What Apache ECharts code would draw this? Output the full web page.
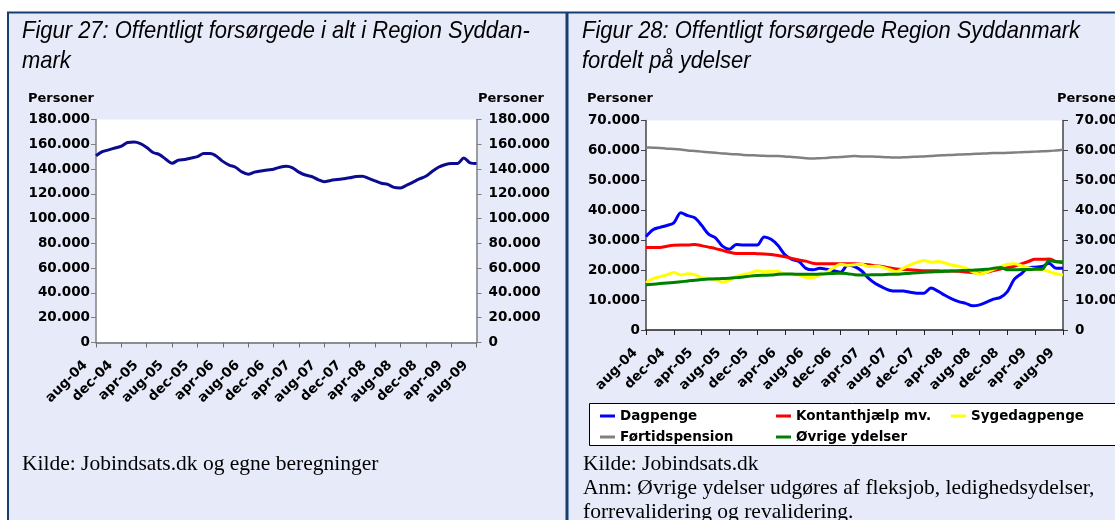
<!DOCTYPE html>
<html>
<head>
<meta charset="utf-8">
<script src="https://cdn.jsdelivr.net/npm/echarts@6/dist/echarts.min.js"></script>
<style>
  html, body { margin: 0; padding: 0; background: #fff; }
  #main { width: 1115px; height: 520px; }
</style>
</head>
<body>
<div id="main"></div>
<script>
// maaneder aug-04 .. aug-09
var maaneder = [
    'aug-04', 'sep-04', 'okt-04', 'nov-04', 'dec-04',
    'jan-05', 'feb-05', 'mar-05', 'apr-05', 'maj-05', 'jun-05', 'jul-05', 'aug-05', 'sep-05', 'okt-05', 'nov-05', 'dec-05',
    'jan-06', 'feb-06', 'mar-06', 'apr-06', 'maj-06', 'jun-06', 'jul-06', 'aug-06', 'sep-06', 'okt-06', 'nov-06', 'dec-06',
    'jan-07', 'feb-07', 'mar-07', 'apr-07', 'maj-07', 'jun-07', 'jul-07', 'aug-07', 'sep-07', 'okt-07', 'nov-07', 'dec-07',
    'jan-08', 'feb-08', 'mar-08', 'apr-08', 'maj-08', 'jun-08', 'jul-08', 'aug-08', 'sep-08', 'okt-08', 'nov-08', 'dec-08',
    'jan-09', 'feb-09', 'mar-09', 'apr-09', 'maj-09', 'jun-09', 'jul-09', 'aug-09'
];

// alle tal i 1.000 personer
// Figur 27
var iAlt = [
    150.7, 154.0, 155.5, 157.0, 158.5, 161.5, 161.8, 160.5, 157.4, 153.4,
    151.7, 148.0, 144.7, 147.2, 147.7, 148.8, 150.1, 152.5, 152.5, 150.4,
    146.2, 143.2, 141.5, 137.7, 135.9, 137.5, 138.4, 139.2, 139.9, 141.5,
    142.2, 141.0, 137.5, 135.2, 134.0, 131.5, 129.7, 130.8, 131.5, 132.2,
    132.9, 134.0, 134.2, 132.5, 130.5, 128.5, 127.6, 125.2, 124.8, 127.0,
    129.5, 132.0, 134.2, 138.0, 141.5, 143.5, 144.5, 144.5, 149.0, 145.0,
    144.5
];

// Figur 28
var dagpenge = [
    31.2, 33.5, 34.3, 34.9, 35.8, 39.2, 38.2, 37.5, 35.0, 32.0,
    30.8, 28.0, 27.0, 28.6, 28.4, 28.4, 28.4, 31.1, 30.3, 28.2,
    25.1, 23.6, 22.9, 20.6, 20.1, 20.6, 20.3, 19.8, 19.3, 21.6,
    21.2, 19.8, 17.3, 15.5, 14.3, 13.3, 13.0, 13.0, 12.6, 12.3,
    12.3, 14.0, 13.0, 11.6, 10.4, 9.5, 8.9, 8.1, 8.4, 9.3,
    10.3, 10.9, 12.8, 17.0, 18.8, 20.8, 21.0, 21.2, 22.3, 20.6,
    20.6
];
var kontanthjaelp = [
    27.6, 27.6, 27.6, 28.0, 28.3, 28.4, 28.4, 28.6, 28.2, 27.7,
    27.2, 26.6, 26.0, 25.6, 25.6, 25.6, 25.5, 25.4, 25.2, 24.9,
    24.5, 23.9, 23.4, 23.0, 22.3, 22.1, 22.1, 22.1, 22.1, 22.1,
    22.1, 22.0, 21.8, 21.5, 21.2, 20.8, 20.4, 20.2, 20.1, 20.0,
    19.8, 19.8, 19.8, 19.7, 19.7, 19.6, 19.4, 19.2, 19.0, 19.3,
    19.9, 20.4, 20.8, 21.3, 22.1, 22.9, 23.6, 23.6, 23.7, 22.9,
    22.5
];
var sygedagpenge = [
    15.8, 17.2, 17.8, 18.4, 19.2, 18.4, 18.8, 18.5, 17.5, 17.3,
    16.8, 16.0, 16.6, 17.9, 18.5, 19.0, 19.8, 19.5, 19.6, 19.6,
    18.6, 18.6, 18.4, 17.6, 17.5, 18.3, 19.3, 20.8, 22.0, 21.6,
    21.8, 22.0, 21.2, 21.3, 21.0, 20.2, 19.5, 20.6, 21.8, 22.6,
    23.2, 22.6, 22.9, 22.4, 21.7, 21.3, 20.7, 19.4, 18.7, 19.3,
    20.3, 21.2, 22.0, 22.1, 21.5, 20.8, 20.3, 20.2, 19.5, 18.8,
    18.4
];
var foertidspension = [
    61.0, 60.9, 60.8, 60.6, 60.5, 60.3, 60.0, 59.8, 59.6, 59.4,
    59.2, 59.0, 58.8, 58.7, 58.5, 58.4, 58.3, 58.2, 58.1, 58.1,
    58.0, 57.8, 57.6, 57.4, 57.3, 57.4, 57.5, 57.7, 57.8, 58.0,
    58.1, 58.0, 58.0, 57.9, 57.8, 57.7, 57.6, 57.7, 57.8, 57.9,
    58.0, 58.1, 58.3, 58.4, 58.5, 58.6, 58.7, 58.8, 58.9, 59.0,
    59.1, 59.1, 59.2, 59.3, 59.4, 59.5, 59.6, 59.7, 59.8, 60.0,
    60.2
];
var oevrige = [
    15.1, 15.3, 15.5, 15.7, 15.9, 16.1, 16.4, 16.6, 16.9, 17.0,
    17.1, 17.2, 17.3, 17.5, 17.7, 18.0, 18.2, 18.3, 18.4, 18.6,
    18.7, 18.7, 18.6, 18.6, 18.6, 18.7, 18.8, 18.9, 19.0, 18.8,
    18.5, 18.4, 18.4, 18.5, 18.5, 18.6, 18.6, 18.8, 19.0, 19.1,
    19.3, 19.4, 19.5, 19.6, 19.7, 19.8, 19.9, 20.0, 20.1, 20.3,
    20.6, 20.9, 20.1, 20.1, 20.2, 20.2, 20.3, 20.3, 23.2, 22.8,
    22.8
];

var serieNavne = ['Dagpenge', 'Kontanthjælp mv.', 'Sygedagpenge', 'Førtidspension', 'Øvrige ydelser'];
var serieFarver = ['#0000ff', '#ff0000', '#ffff00', '#808080', '#008000'];

var panelFarve = '#e7eaf8';
var kantFarve = '#173e72';
var aksefont = 'DejaVu Sans';
var titelFont = 'italic 24px "Liberation Sans", Arial, sans-serif';
var noteFont = '21.5px "Liberation Serif", serif';

function tusind(v) {
    return v === 0 ? '0' : v + '.000';
}

function lavXAkse(gridIndex, farve) {
    return {
        type: 'category',
        gridIndex: gridIndex,
        data: maaneder,
        boundaryGap: false,
        axisLine: { lineStyle: { color: farve, width: 1.5 } },
        axisTick: { interval: 3, length: 5, lineStyle: { color: farve } },
        axisLabel: {
            interval: 3, rotate: 45, margin: 10, padding: [0, 15, 0, 0],
            color: '#000', fontFamily: aksefont, fontWeight: 'bold', fontSize: 13.5
        },
        splitLine: { show: false }
    };
}

function lavYAkse(gridIndex, side, max, interval, farve, margin, ryk) {
    return {
        type: 'value',
        gridIndex: gridIndex,
        position: side,
        min: 0, max: max, interval: interval,
        axisLine: { show: true, lineStyle: { color: farve, width: 1.5 } },
        axisTick: { show: true, length: 5, lineStyle: { color: farve } },
        axisLabel: {
            margin: margin, formatter: tusind, padding: [ryk, 0, 0, 0],
            color: '#000', fontFamily: aksefont, fontWeight: 'bold', fontSize: 13.5
        },
        splitLine: { show: false }
    };
}

function tekst(t, x, y, font, skalaX) {
    return {
        type: 'text', z: 10, silent: true,
        x: x, y: y, scaleX: skalaX || 1,
        style: { text: t, x: 0, y: 0, font: font, fill: '#000', align: 'left', verticalAlign: 'middle' }
    };
}

// en legende pr. punkt, saa kolonnerne staar som i Excel
function legendePunkt(navn, x, y) {
    return {
        data: [navn],
        left: x, top: y,
        icon: 'rect', itemWidth: 15, itemHeight: 3, itemGap: 4,
        padding: 0, selectedMode: false,
        textStyle: { color: '#000', fontFamily: aksefont, fontWeight: 'bold', fontSize: 13.5 }
    };
}

var myChart = echarts.init(document.getElementById('main'));

var grafik = [
    // paneler
    { type: 'rect', z: -10, silent: true, shape: { x: 8, y: 13, width: 559, height: 510 }, style: { fill: panelFarve } },
    { type: 'rect', z: -10, silent: true, shape: { x: 568, y: 13, width: 550, height: 510 }, style: { fill: panelFarve } },
    { type: 'line', z: -9, silent: true, shape: { x1: 7, y1: 12.5, x2: 1115, y2: 12.5 }, style: { stroke: kantFarve, lineWidth: 2 } },
    { type: 'line', z: -9, silent: true, shape: { x1: 8, y1: 12, x2: 8, y2: 520 }, style: { stroke: kantFarve, lineWidth: 2 } },
    { type: 'line', z: -9, silent: true, shape: { x1: 567, y1: 12, x2: 567, y2: 520 }, style: { stroke: kantFarve, lineWidth: 3 } },
    // legende boks
    { type: 'rect', z: 1, silent: true, shape: { x: 589.5, y: 403.5, width: 600, height: 42 }, style: { fill: '#fff', stroke: '#000', lineWidth: 1 } },
    // titler (smal kursiv)
    tekst('Figur 27: Offentligt forsørgede i alt i Region Syddan-', 22, 31, titelFont, 0.915),
    tekst('mark', 22, 61, titelFont, 0.915),
    tekst('Figur 28: Offentligt forsørgede Region Syddanmark', 582, 31, titelFont, 0.915),
    tekst('fordelt på ydelser', 582, 61, titelFont, 0.915),
    // akse navne
    tekst('Personer', 28, 99, 'bold 13px "DejaVu Sans"'),
    tekst('Personer', 478, 99, 'bold 13px "DejaVu Sans"'),
    tekst('Personer', 587, 99, 'bold 13px "DejaVu Sans"'),
    tekst('Personer', 1057, 99, 'bold 13px "DejaVu Sans"'),
    // kilder
    tekst('Kilde: Jobindsats.dk og egne beregninger', 22, 464, noteFont),
    tekst('Kilde: Jobindsats.dk', 583, 464, noteFont),
    tekst('Anm: Øvrige ydelser udgøres af fleksjob, ledighedsydelser,', 583, 488, noteFont),
    tekst('forrevalidering og revalidering.', 583, 512, noteFont)
];

var serier = [{
    name: 'Offentligt forsørgede i alt',
    type: 'line',
    xAxisIndex: 0, yAxisIndex: 0,
    data: iAlt,
    symbol: 'none',
    smooth: 0.3,
    lineStyle: { color: '#0b0b90', width: 3 }
}];
var dataListe = [dagpenge, kontanthjaelp, sygedagpenge, foertidspension, oevrige];
for (var i = 0; i < serieNavne.length; i++) {
    serier.push({
        name: serieNavne[i],
        type: 'line',
        xAxisIndex: 1, yAxisIndex: 2,
        data: dataListe[i],
        symbol: 'none',
        smooth: 0.3,
        color: serieFarver[i],
        lineStyle: { color: serieFarver[i], width: i === 3 ? 2.5 : 3 }
    });
}

option = {
    animation: false,
    backgroundColor: '#fff',
    graphic: grafik,
    legend: [
        legendePunkt(serieNavne[0], 600, 409),
        legendePunkt(serieNavne[1], 776, 409),
        legendePunkt(serieNavne[2], 951, 409),
        legendePunkt(serieNavne[3], 600, 430),
        legendePunkt(serieNavne[4], 776, 430)
    ],
    grid: [
        { left: 96, top: 119.5, width: 380.5, height: 223, show: true, backgroundColor: '#fff', borderWidth: 0, outerBoundsMode: 'none' },
        { left: 646, top: 120.5, width: 417, height: 209.5, show: true, backgroundColor: '#fff', borderWidth: 0, outerBoundsMode: 'none' }
    ],
    xAxis: [lavXAkse(0, '#6e6e6e'), lavXAkse(1, '#222')],
    yAxis: [
        lavYAkse(0, 'left', 180, 20, '#808080', 6, 5),
        lavYAkse(0, 'right', 180, 20, '#808080', 12, 5),
        lavYAkse(1, 'left', 70, 10, '#444', 6, 3),
        lavYAkse(1, 'right', 70, 10, '#444', 12, 3)
    ],
    series: serier
};

myChart.setOption(option, true);
</script>
</body>
</html>
